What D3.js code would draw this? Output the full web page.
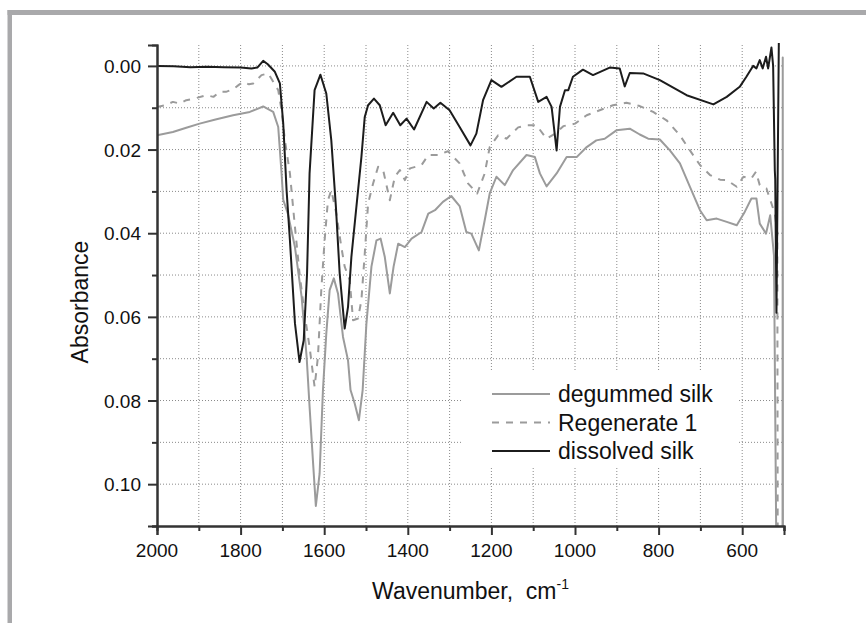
<!DOCTYPE html>
<html>
<head>
<meta charset="utf-8">
<script src="https://cdn.jsdelivr.net/npm/d3@7"></script>
<style>
  body { margin: 0; background: #fff; }
  svg { display: block; font-family: "Liberation Sans", Arial, sans-serif; }
</style>
</head>
<body>
<div id="chart"></div>
<script>
// Dati: [numero d'onda, assorbanza]
const degummedSilk = [[2000,0.0166],[1962,0.0158],[1930,0.0148],[1898,0.0138],[1860,0.0128],[1818,0.0118],[1778,0.011],[1746,0.0097],[1722,0.011],[1710,0.0146],[1702,0.0257],[1698,0.032],[1687,0.0353],[1670,0.0433],[1654,0.0552],[1642,0.0696],[1635,0.0815],[1627,0.0943],[1620,0.1052],[1611,0.0975],[1603,0.0775],[1595,0.064],[1587,0.0536],[1577,0.0508],[1567,0.0544],[1555,0.0648],[1543,0.0704],[1537,0.0775],[1527,0.0807],[1517,0.0847],[1508,0.0775],[1499,0.0616],[1487,0.048],[1475,0.0417],[1465,0.0413],[1455,0.0457],[1443,0.0544],[1434,0.048],[1423,0.0425],[1407,0.0433],[1391,0.0413],[1367,0.0397],[1351,0.0353],[1335,0.0345],[1316,0.0325],[1296,0.0311],[1276,0.0335],[1260,0.0397],[1248,0.0401],[1230,0.0441],[1216,0.0369],[1204,0.0305],[1188,0.0265],[1168,0.0285],[1148,0.0249],[1116,0.0213],[1096,0.0218],[1084,0.0257],[1068,0.0288],[1044,0.0257],[1020,0.0218],[996,0.0218],[972,0.0194],[949,0.0178],[929,0.0174],[901,0.0154],[869,0.015],[845,0.0164],[825,0.0174],[797,0.0176],[773,0.0202],[749,0.0233],[725,0.0289],[701,0.0345],[685,0.0369],[661,0.0365],[637,0.0373],[613,0.0381],[594,0.0349],[578,0.0317],[566,0.0317],[558,0.0377],[543,0.0401],[533,0.0357],[524,0.0453],[518,0.12],[503.5,0.12],[503,-0.002],[502.5,0.12]];

const regenerate1 = [[2000,0.0098],[1980,0.0094],[1962,0.0086],[1945,0.009],[1930,0.0082],[1910,0.0078],[1882,0.007],[1865,0.0074],[1850,0.0062],[1835,0.0062],[1818,0.0056],[1805,0.0046],[1794,0.0038],[1780,0.0044],[1770,0.0042],[1750,0.0022],[1734,0.0018],[1722,0.0038],[1710,0.0058],[1702,0.0106],[1694,0.0178],[1682,0.0257],[1670,0.0385],[1659,0.0496],[1647,0.0592],[1635,0.0672],[1623,0.0767],[1615,0.0696],[1607,0.0536],[1599,0.0417],[1591,0.0321],[1583,0.0297],[1571,0.0353],[1559,0.0433],[1551,0.048],[1539,0.0512],[1531,0.0608],[1519,0.0604],[1511,0.056],[1503,0.0449],[1495,0.0329],[1483,0.0281],[1471,0.0241],[1459,0.0249],[1443,0.0321],[1431,0.0265],[1419,0.0249],[1407,0.0273],[1395,0.0245],[1367,0.0237],[1351,0.0213],[1327,0.0213],[1304,0.0204],[1276,0.0233],[1256,0.0281],[1234,0.0305],[1216,0.0257],[1204,0.0194],[1184,0.0166],[1164,0.0174],[1136,0.0147],[1116,0.0142],[1092,0.0142],[1068,0.0174],[1048,0.0162],[1028,0.0144],[1000,0.0138],[972,0.0118],[941,0.0106],[909,0.0094],[877,0.0088],[845,0.0096],[813,0.011],[781,0.013],[749,0.0166],[725,0.0202],[701,0.0237],[677,0.0261],[653,0.0272],[637,0.0273],[613,0.0289],[597,0.0265],[578,0.0269],[567,0.0253],[558,0.0285],[542,0.0293],[530,0.0329],[522,0.0353],[516,0.04],[515,0.12]];

const dissolvedSilk = [[2000,0.0],[1960,0.0001],[1920,0.0003],[1880,0.0002],[1840,0.0003],[1800,0.0004],[1774,0.0006],[1760,0.0004],[1746,-0.0012],[1735,-0.0004],[1718,0.0014],[1706,0.0042],[1698,0.0138],[1690,0.0297],[1682,0.0417],[1670,0.0615],[1659,0.0708],[1649,0.0656],[1641,0.0496],[1635,0.0257],[1623,0.0058],[1609,0.0021],[1595,0.0066],[1583,0.0178],[1572,0.0337],[1563,0.0496],[1551,0.0628],[1543,0.0576],[1535,0.0457],[1523,0.0337],[1511,0.0218],[1503,0.0122],[1495,0.0094],[1481,0.0078],[1467,0.0094],[1453,0.0142],[1435,0.0112],[1418,0.0142],[1403,0.0126],[1385,0.0152],[1355,0.0086],[1338,0.0102],[1322,0.0088],[1300,0.0106],[1276,0.0146],[1250,0.019],[1236,0.0162],[1220,0.0082],[1200,0.0034],[1176,0.005],[1140,0.0026],[1108,0.0026],[1088,0.0086],[1068,0.0074],[1056,0.0098],[1044,0.0202],[1036,0.0098],[1024,0.0058],[1016,0.0058],[1005,0.0026],[981,0.0009],[957,0.0022],[917,0.0004],[893,0.0006],[881,0.0049],[869,0.0017],[837,0.0018],[797,0.0034],[733,0.007],[669,0.0092],[637,0.0074],[606,0.005],[590,0.0026],[574,0.0],[566,0.0006],[558,-0.0014],[551,0.0006],[543,-0.0022],[538,0.0006],[530,-0.0044],[526,0.0],[522,0.025],[521,0.027],[518,0.059],[512,-0.01]];

const seriesNames = ["degummed silk", "Regenerate 1", "dissolved silk"];
const xMajorTicks = [2000, 1800, 1600, 1400, 1200, 1000, 800, 600];
const xMinorTicks = [1900, 1700, 1500, 1300, 1100, 900, 700, 500];
const yMajorTicks = [0.00, 0.02, 0.04, 0.06, 0.08, 0.10];
const yMinorTicks = [0.01, 0.03, 0.05, 0.07, 0.09, 0.11];

const width = 866, height = 623;
const margin = { top: 45, left: 157, right: 82, bottom: 97 };
const innerWidth = width - margin.left - margin.right;
const innerHeight = height - margin.top - margin.bottom;

const svg = d3.select("#chart").append("svg").attr("width", width).attr("height", height);

// Cornice grigia
svg.append("rect").attr("x", 7.5).attr("y", 10).attr("width", width - 7.5).attr("height", 5).attr("fill", "#a9a9ab");
svg.append("rect").attr("x", 7.5).attr("y", 10).attr("width", 4.5).attr("height", height - 10).attr("fill", "#a9a9ab");

const g = svg.append("g").attr("transform", `translate(${margin.left},${margin.top})`);

const x = d3.scaleLinear().domain([2000, 500]).range([0, innerWidth]);
const y = d3.scaleLinear().domain([-0.005, 0.11]).range([0, innerHeight]);

// Griglia
const gridColor = "#8a8a8a";
g.append("g").selectAll("line").data(d3.range(0, 0.101, 0.01)).enter().append("line")
    .attr("x1", 0).attr("x2", innerWidth)
    .attr("y1", d => y(d)).attr("y2", d => y(d))
    .attr("stroke", gridColor).attr("stroke-width", 1).attr("stroke-dasharray", "1,2");
g.append("g").selectAll("line").data(d3.range(1900, 599, -100)).enter().append("line")
    .attr("x1", d => x(d)).attr("x2", d => x(d))
    .attr("y1", 0).attr("y2", innerHeight)
    .attr("stroke", gridColor).attr("stroke-width", 1).attr("stroke-dasharray", "1,2");

// Sfondo della legenda
g.append("rect").attr("x", 305).attr("y", 327).attr("width", 275).attr("height", 96).attr("fill", "#fff");

// Curve
svg.append("defs").append("clipPath").attr("id", "clip")
    .append("rect").attr("x", 0).attr("y", -2).attr("width", innerWidth + 2).attr("height", innerHeight + 2);

const line = d3.line().x(d => x(d[0])).y(d => y(d[1]));
const styles = [
    { data: degummedSilk, color: "#9b9b9b", dash: null },
    { data: regenerate1, color: "#9b9b9b", dash: "7,7" },
    { data: dissolvedSilk, color: "#1c1c1c", dash: null }
];
const curves = g.append("g").attr("clip-path", "url(#clip)");
styles.forEach(s => {
    curves.append("path").datum(s.data)
        .attr("d", line).attr("fill", "none")
        .attr("stroke", s.color).attr("stroke-width", 2)
        .attr("stroke-dasharray", s.dash)
        .attr("stroke-linejoin", "round");
});

// Assi (solo linee e tacche; le etichette sono testi separati)
const axisColor = "#333";
[[yMajorTicks, 9], [yMinorTicks, 5]].forEach(([vals, size]) => {
    g.append("g").call(d3.axisLeft(y).tickValues(vals).tickSize(size))
        .selectAll("text").remove();
});
[[xMajorTicks, 9], [xMinorTicks, 5]].forEach(([vals, size]) => {
    g.append("g").attr("transform", `translate(0,${innerHeight})`)
        .call(d3.axisBottom(x).tickValues(vals).tickSize(size))
        .selectAll("text").remove();
});
g.selectAll(".domain").attr("stroke", axisColor).attr("stroke-width", 2);
g.selectAll(".tick line").attr("stroke", axisColor).attr("stroke-width", 2);

// Etichette delle tacche
g.append("g").selectAll("text").data(yMajorTicks).enter().append("text")
    .attr("x", -16).attr("y", d => y(d) + 7)
    .attr("text-anchor", "end").attr("font-size", 19).attr("fill", "#111")
    .text(d3.format(".2f"));
g.append("g").selectAll("text").data(xMajorTicks).enter().append("text")
    .attr("x", d => x(d)).attr("y", innerHeight + 31)
    .attr("text-anchor", "middle").attr("font-size", 19).attr("fill", "#111")
    .text(d3.format("d"));

// Titoli degli assi
const xTitle = svg.append("text")
    .attr("x", margin.left + innerWidth / 2).attr("y", 599)
    .attr("text-anchor", "middle").attr("font-size", 23).style("white-space", "pre").attr("fill", "#111");
xTitle.append("tspan").text("Wavenumber,  cm");
xTitle.append("tspan").attr("dy", -10).attr("font-size", 14).text("-1");

svg.append("text")
    .attr("transform", "translate(88,302) rotate(-90)")
    .attr("text-anchor", "middle").attr("font-size", 23).attr("fill", "#111")
    .text("Absorbance");

// Legenda
const legend = g.append("g").attr("transform", "translate(335,349)");
styles.forEach((s, i) => {
    const row = legend.append("g").attr("transform", `translate(0, ${i * 28.5})`);
    row.append("line").attr("x1", 0).attr("x2", 58).attr("y1", 0).attr("y2", 0)
        .attr("stroke", s.color).attr("stroke-width", 2).attr("stroke-dasharray", s.dash);
    row.append("text").attr("x", 66).attr("y", 8).attr("font-size", 23).attr("fill", "#111")
        .text(seriesNames[i]);
});
</script>
</body>
</html>
